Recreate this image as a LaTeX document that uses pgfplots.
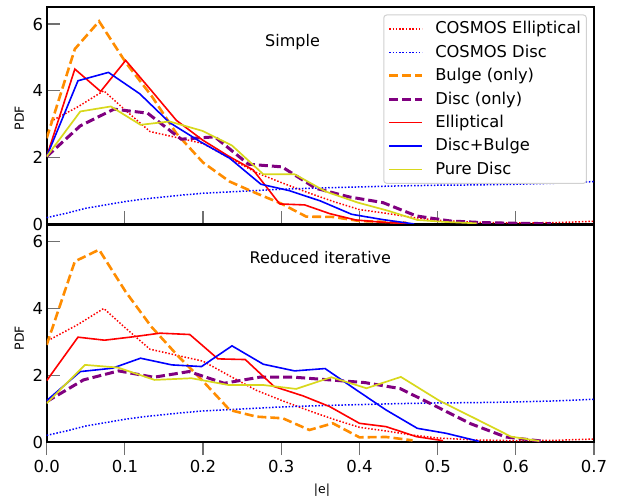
\documentclass[border=0pt]{standalone}
\usepackage{pgfplots}
\usepackage{pgfplotstable}
\pgfplotsset{compat=1.18}
\usepackage{fontspec}
\setmainfont{DejaVu Sans}
\definecolor{cOrange}{HTML}{FF8C00}
\definecolor{cPurple}{HTML}{800080}
\definecolor{cYellow}{HTML}{D8D81C}
\definecolor{cTick}{HTML}{707070}

% COSMOS reference curves (same in both panels)
\pgfplotstableread{
x y
0.005 3.08
0.04 3.52
0.073 4.00
0.1 3.43
0.132 2.78
0.166 2.60
0.2 2.42
0.234 1.98
0.268 1.55
0.3 1.25
0.334 0.95
0.367 0.68
0.4 0.44
0.434 0.33
0.467 0.21
0.5 0.12
0.55 0.06
0.6 0.04
0.65 0.05
0.7 0.09
}\cosE
\pgfplotstableread{
x y
0 0.20
0.025 0.33
0.05 0.48
0.075 0.58
0.1 0.68
0.125 0.76
0.15 0.82
0.175 0.88
0.2 0.93
0.25 0.99
0.3 1.05
0.35 1.09
0.4 1.12
0.45 1.15
0.5 1.17
0.55 1.18
0.6 1.20
0.65 1.23
0.7 1.28
}\cosD
% Simple
\pgfplotstableread{
x y
0 2.58
0.036 5.25
0.067 6.08
0.101 4.85
0.134 3.85
0.166 2.72
0.2 1.85
0.234 1.28
0.268 0.93
0.3 0.62
0.332 0.23
0.366 0.22
0.4 0.10
0.434 0.07
0.46 0.05
}\sBulge
\pgfplotstableread{
x y
0 2.03
0.043 2.95
0.086 3.45
0.129 3.33
0.172 2.55
0.215 2.62
0.258 1.80
0.301 1.72
0.344 1.08
0.387 0.82
0.43 0.65
0.473 0.25
0.516 0.10
0.559 0.05
0.602 0.03
0.645 0.02
}\sDisc
\pgfplotstableread{
x y
0 2.03
0.036 4.65
0.069 3.98
0.101 4.91
0.133 4.03
0.166 3.11
0.199 2.53
0.232 2.05
0.264 1.63
0.298 0.61
0.33 0.58
0.362 0.32
0.395 0.13
0.43 0.06
0.462 0.02
}\sEll
\pgfplotstableread{
x y
0 2.03
0.04 4.30
0.079 4.55
0.119 3.91
0.157 3.05
0.196 2.48
0.234 1.98
0.274 1.20
0.31 1.01
0.35 0.70
0.39 0.30
0.43 0.14
0.47 0.01
}\sDB
\pgfplotstableread{
x y
0 2.03
0.043 3.38
0.082 3.53
0.12 2.98
0.157 3.08
0.199 2.80
0.237 2.36
0.277 1.50
0.317 1.50
0.357 0.98
0.398 0.65
0.436 0.41
0.474 0.13
0.51 0.07
0.55 0.03
}\sPD
% Reduced iterative
\pgfplotstableread{
x y
0 2.91
0.036 5.41
0.067 5.76
0.101 4.50
0.134 3.45
0.167 2.60
0.2 1.82
0.234 0.96
0.268 0.76
0.302 0.71
0.336 0.36
0.366 0.56
0.4 0.14
0.434 0.15
0.468 0.05
}\rBulge
\pgfplotstableread{
x y
0 1.21
0.047 1.86
0.092 2.13
0.137 1.94
0.182 2.11
0.227 1.76
0.272 1.94
0.317 1.94
0.362 1.86
0.407 1.78
0.452 1.60
0.497 1.08
0.542 0.55
0.587 0.15
0.632 0.03
}\rDisc
\pgfplotstableread{
x y
0 1.84
0.04 3.14
0.074 3.05
0.11 3.15
0.145 3.26
0.183 3.22
0.219 2.49
0.254 2.47
0.291 1.66
0.328 1.38
0.362 1.06
0.4 0.56
0.434 0.46
0.473 0.16
0.507 0.04
}\rEll
\pgfplotstableread{
x y
0 1.24
0.043 2.11
0.084 2.21
0.12 2.51
0.16 2.31
0.198 2.26
0.237 2.88
0.277 2.33
0.317 2.13
0.356 2.20
0.396 1.56
0.434 0.96
0.474 0.41
0.511 0.26
0.553 0.02
}\rDB
\pgfplotstableread{
x y
0 1.16
0.049 2.31
0.091 2.23
0.138 1.86
0.185 1.91
0.232 1.71
0.276 1.71
0.319 1.59
0.364 1.94
0.409 1.61
0.453 1.95
0.502 1.24
0.55 0.68
0.594 0.16
0.63 0.03
}\rPD

\pgfplotsset{
  panel/.style={
    scale only axis, width=547.3pt, height=217pt,
    xmin=0, xmax=0.7, ymin=0, ymax=6.5,
    xtick={0,0.1,0.2,0.3,0.4,0.5,0.6,0.7}, ytick={0,2,4,6},
    tick align=inside, xtick pos=lower, ytick pos=left,
    major tick length=13pt,
    tick style={cTick, line width=1.2pt},
    axis line style={line width=2pt, black},
    ticklabel style={font=\fontsize{16.5}{19}\selectfont},
    /pgf/number format/assume math mode=true,
    xticklabel style={/pgf/number format/fixed, /pgf/number format/fixed zerofill, /pgf/number format/precision=1},
  },
  cosEs/.style={red, line width=1.5pt, dash pattern=on 1.5pt off 1.8pt},
  cosDs/.style={blue, line width=1.5pt, dash pattern=on 1.5pt off 1.8pt},
  bulS/.style={cOrange, line width=2.6pt, dash pattern=on 9pt off 4pt},
  disS/.style={cPurple, line width=3pt, dash pattern=on 9pt off 4pt},
  ellS/.style={red, line width=1.6pt},
  dbS/.style={blue, line width=1.6pt},
  pdS/.style={cYellow, line width=1.7pt},
}

\begin{document}
\begin{tikzpicture}
\path[use as bounding box] (0,0) rectangle (628pt,501pt);

\begin{axis}[panel, at={(46.7pt,276.7pt)}, anchor=south west,
  xticklabels={},
  legend style={at={(0.987,0.967)}, anchor=north east, draw=black!18, line width=1pt,
    rounded corners=3pt, fill=white,
    font=\fontsize{16.3}{19}\selectfont, inner xsep=4pt, inner ysep=4.5pt,
    row sep=4.4pt, column sep=10pt,
    nodes={inner sep=1.5pt, text height=13pt, text depth=3pt, anchor=west}},
  legend cell align=left,
  legend image code/.code={\draw[#1] (0pt,0pt) -- (33pt,0pt);},
]
\addplot[cosEs] table[x=x,y=y] {\cosE};
\addlegendentry{COSMOS Elliptical}
\addplot[cosDs] table[x=x,y=y] {\cosD};
\addlegendentry{COSMOS Disc}
\addplot[bulS] table[x=x,y=y] {\sBulge};
\addlegendentry{Bulge (only)}
\addplot[disS] table[x=x,y=y] {\sDisc};
\addlegendentry{Disc (only)}
\addplot[ellS] table[x=x,y=y] {\sEll};
\addlegendentry{Elliptical}
\addplot[dbS] table[x=x,y=y] {\sDB};
\addlegendentry{Disc+Bulge}
\addplot[pdS] table[x=x,y=y] {\sPD};
\addlegendentry{Pure Disc}
\node[anchor=base, font=\fontsize{16}{19}\selectfont] at (axis cs:0.3144,5.34) {Simple};
\end{axis}

\begin{axis}[panel, at={(46.7pt,59pt)}, anchor=south west,
  x tick style={yshift=-13pt},
  xticklabel style={yshift=-15pt},
]
\addplot[cosEs] table[x=x,y=y] {\cosE};
\addplot[cosDs] table[x=x,y=y] {\cosD};
\addplot[bulS] table[x=x,y=y] {\rBulge};
\addplot[disS] table[x=x,y=y] {\rDisc};
\addplot[ellS] table[x=x,y=y] {\rEll};
\addplot[dbS] table[x=x,y=y] {\rDB};
\addplot[pdS] table[x=x,y=y] {\rPD};
\node[anchor=base, font=\fontsize{16}{19}\selectfont] at (axis cs:0.350,5.35) {Reduced iterative};
\end{axis}

\node[rotate=90, font=\fontsize{12.5}{15}\selectfont] at (19.2pt,383pt) {PDF};
\node[rotate=90, font=\fontsize{12.5}{15}\selectfont] at (19.2pt,163pt) {PDF};
\node[font=\fontsize{12.5}{15}\selectfont] at (322pt,11pt) {|e|};
\end{tikzpicture}
\end{document}
